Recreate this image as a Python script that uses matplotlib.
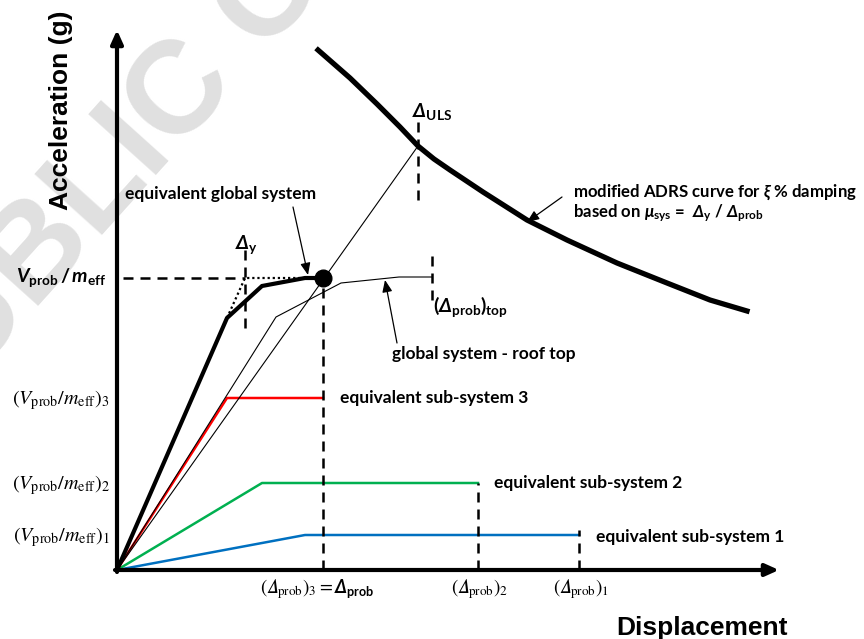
import matplotlib.pyplot as plt
from matplotlib import rcParams

params = {
    'font.family': 'Lato',
    'mathtext.fontset': 'custom',
    'mathtext.rm': 'Lato:bold',
    'mathtext.it': 'Lato:bold:italic',
    'mathtext.bf': 'Lato:bold:italic',
    'mathtext.sf': 'Lato:bold',
    'savefig.dpi': 100,
}
rcParams.update(params)

# capacity curves, displacement vs acceleration (schematic units)
sub1_d = [0, 188, 462]
sub1_a = [0, 35, 35]
sub2_d = [0, 145, 361]
sub2_a = [0, 87, 87]
sub3_d = [0, 110, 206]
sub3_a = [0, 172, 172]
glob_d = [0, 110, 145, 188, 206]
glob_a = [0, 252, 284, 292, 292]
roof_d = [0, 159, 224, 282, 315]
roof_a = [0, 253, 287, 293, 293]
bilin_d = [110, 128, 188]
bilin_a = [252, 292, 292]

# modified ADRS demand curve
adrs_d = [201, 233, 260, 283, 301, 317, 333, 366, 410, 450, 500, 550, 593, 630]
adrs_a = [520, 492, 466, 443, 424, 411, 400, 378, 350, 330, 307, 287, 270, 259]

d_y = 128
d_prob = 206
v_prob = 292
d_uls = 301
a_uls = 424
d_top = 315

blue = '#0070C0'
green = '#00B050'
red = '#FF0000'
dash = (0, (4, 2.8))
fs_lab = 12.5

# italic capital delta for the STIX labels
DEL = '\U0001D6E5'

fig = plt.figure(figsize=(8.64, 6.39))
ax = fig.add_axes([0, 0, 1, 1])
ax.set_xlim(-117, 747)
ax.set_ylim(-69, 570)
ax.axis('off')

# faint stamp in the background
ax.text(-207, 122, 'PUBLIC C', fontsize=95, family='Liberation Sans',
        weight='bold', color='#e0e0e0', rotation=48, rotation_mode='anchor',
        ha='left', va='baseline', zorder=0)

# axes with arrow heads
axis_arrow = dict(arrowstyle='-|>,head_length=0.4,head_width=0.18', lw=3,
                  color='k', shrinkA=0, shrinkB=0, mutation_scale=20)
ax.annotate('', xy=(662, 0), xytext=(-2, 0), arrowprops=axis_arrow)
ax.annotate('', xy=(0, 540), xytext=(0, -2), arrowprops=axis_arrow)

# sub-systems
ax.plot(sub1_d, sub1_a, c=blue, lw=1.8)
ax.plot(sub2_d, sub2_a, c=green, lw=1.8)
ax.plot(sub3_d, sub3_a, c=red, lw=1.8)

# global system
ax.plot(roof_d, roof_a, c='k', lw=0.8)
ax.plot([0, d_uls], [0, a_uls], c='k', lw=0.8)
ax.plot(glob_d, glob_a, c='k', lw=3, solid_joinstyle='miter')
ax.plot(bilin_d, bilin_a, c='k', lw=1.6, ls=(0, (1, 1.3)))
ax.plot(d_prob, v_prob, 'o', c='k', ms=12, zorder=5)
ax.plot(adrs_d, adrs_a, c='k', lw=3.8, solid_joinstyle='round')

# reference dashes
ax.plot([6, d_y], [v_prob, v_prob], c='k', lw=1.8, ls=dash)
ax.plot([d_y, d_y], [242, 322], c='k', lw=1.8, ls=dash)
ax.plot([d_prob, d_prob], [0, 284], c='k', lw=1.8, ls=dash)
ax.plot([d_uls, d_uls], [370, 450], c='k', lw=1.8, ls=dash)
ax.plot([d_top, d_top], [270, 315], c='k', lw=1.8, ls=dash)
ax.plot([sub2_d[-1]] * 2, [0, sub2_a[-1]], c='k', lw=1.8, ls=dash)
ax.plot([sub1_d[-1]] * 2, [0, 40], c='k', lw=1.8, ls=dash)

# axis titles
ax.text(-56, 460, 'Acceleration (g)', family='Liberation Sans', weight='bold',
        fontsize=19, rotation=90, ha='center', va='center')
ax.text(585, -58, 'Displacement', family='Liberation Sans', weight='bold',
        fontsize=19, ha='center', va='center')

# acceleration levels
ax.text(-11, v_prob, r'$\mathit{V}_{\mathrm{prob}}\,/\,\mathit{m}_{\mathrm{eff}}$',
        fontsize=14, ha='right', va='center')
for lev, a in zip(['3', '2', '1'], [sub3_a[-1], sub2_a[-1], sub1_a[-1]]):
    ax.text(-7, a - 2, r'$(V_{\mathrm{prob}}/m_{\mathrm{eff}})_{\mathrm{%s}}$' % lev,
            fontsize=14.5, math_fontfamily='stix', ha='right', va='center')

# displacement levels
ax.text(216, -19, r'$(%s_{\mathrm{prob}})_{\mathrm{3}} = $' % DEL,
        fontsize=13.5, math_fontfamily='stix', ha='right', va='center')
ax.text(217, -19, r'$\mathbf{Δ}_{\mathrm{prob}}$', fontsize=13,
        ha='left', va='center')
ax.text(sub2_d[-1] + 2, -19, r'$(%s_{\mathrm{prob}})_{\mathrm{2}}$' % DEL,
        fontsize=13.5, math_fontfamily='stix', ha='center', va='center')
ax.text(sub1_d[-1] + 2, -19, r'$(%s_{\mathrm{prob}})_{\mathrm{1}}$' % DEL,
        fontsize=13.5, math_fontfamily='stix', ha='center', va='center')

ax.text(118, 325, r'$\mathbf{Δ}_{\mathrm{y}}$', fontsize=14, ha='left', va='center')
ax.text(295, 458, r'$\mathbf{Δ}_{\mathrm{ULS}}$', fontsize=14, ha='left', va='center')
ax.text(316, 263, r'$(\mathbf{Δ}_{\mathrm{prob}})_{\mathrm{top}}$', fontsize=14,
        ha='left', va='center')

# curve labels
lab = dict(fontsize=fs_lab, weight='bold', ha='left', va='center')
ax.text(8, 376, 'equivalent global system', **lab)
ax.text(275, 216, 'global system - roof top', **lab)
ax.text(223, 172, 'equivalent sub-system 3', **lab)
ax.text(377, 87, 'equivalent sub-system 2', **lab)
ax.text(479, 33, 'equivalent sub-system 1', **lab)
lab['fontsize'] = 12.1
ax.text(456, 378, r'modified ADRS curve for $\mathit{ξ}$ % damping', **lab)
ax.text(456, 357,
        r'based on $\mathit{μ}_{\mathrm{sys}}$ =  $\mathbf{Δ}_{\mathrm{y}}$ / '
        r'$\mathbf{Δ}_{\mathrm{prob}}$', **lab)

pointer = dict(arrowstyle='-|>,head_length=0.6,head_width=0.25', lw=0.9,
               color='k', shrinkA=0, shrinkB=0, mutation_scale=12)
ax.annotate('', xy=(191, 295), xytext=(176, 363), arrowprops=pointer)
ax.annotate('', xy=(268, 290), xytext=(280, 227), arrowprops=pointer)
ax.annotate('', xy=(410, 348), xytext=(445, 373), arrowprops=pointer)

fig.savefig('out.png')
